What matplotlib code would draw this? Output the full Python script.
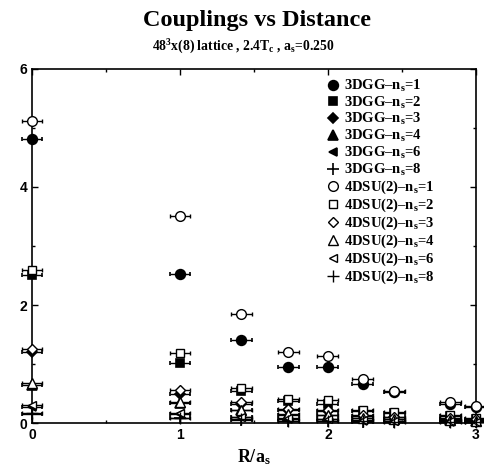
import numpy as np
import matplotlib
matplotlib.use("Agg")
import matplotlib.pyplot as plt
from matplotlib.lines import Line2D

plt.rcParams["mathtext.fontset"] = "custom"
plt.rcParams["mathtext.rm"] = "Liberation Serif:bold"
plt.rcParams["mathtext.it"] = "Liberation Serif:bold"
plt.rcParams["mathtext.bf"] = "Liberation Serif:bold"

# distances R/a_s : 0, 1, sqrt2, sqrt3, 2, sqrt5, sqrt6, sqrt8, 3
R = np.sqrt([0, 1, 2, 3, 4, 5, 6, 8, 9])

# 3DGG couplings for n_s = 1, 2, 3, 4, 6, 8
gg_n1 = [4.81, 2.52, 1.41, 0.95, 0.95, 0.66, 0.53, 0.32, 0.27]
gg_n2 = [2.50, 1.01, 0.54, 0.38, 0.33, 0.21, 0.17, 0.12, 0.07]
gg_n3 = [1.20, 0.50, 0.33, 0.22, 0.20, 0.12, 0.10, 0.07, 0.05]
gg_n4 = [0.65, 0.34, 0.22, 0.14, 0.13, 0.08, 0.06, 0.05, 0.04]
gg_n6 = [0.27, 0.15, 0.10, 0.07, 0.06, 0.04, 0.03, 0.02, 0.02]
gg_n8 = [0.15, 0.08, 0.05, 0.04, 0.03, 0.02, 0.02, 0.01, 0.01]

# 4D SU(2) couplings for n_s = 1, 2, 3, 4, 6, 8
su_n1 = [5.12, 3.50, 1.84, 1.20, 1.13, 0.74, 0.54, 0.36, 0.29]
su_n2 = [2.60, 1.19, 0.60, 0.40, 0.39, 0.22, 0.18, 0.13, 0.08]
su_n3 = [1.25, 0.56, 0.35, 0.24, 0.22, 0.13, 0.11, 0.08, 0.06]
su_n4 = [0.68, 0.36, 0.22, 0.15, 0.14, 0.09, 0.07, 0.05, 0.04]
su_n6 = [0.30, 0.17, 0.11, 0.08, 0.07, 0.05, 0.04, 0.03, 0.02]
su_n8 = [0.17, 0.09, 0.06, 0.04, 0.04, 0.03, 0.02, 0.02, 0.01]

ns_labels = ["1", "2", "3", "4", "6", "8"]
gg_series = [gg_n1, gg_n2, gg_n3, gg_n4, gg_n6, gg_n8]
su_series = [su_n1, su_n2, su_n3, su_n4, su_n6, su_n8]
markers = ["o", "s", "D", "^", "<", "+"]
msizes = [7, 6, 5, 6.5, 6, 8]

fig = plt.figure(figsize=(4.84, 4.69), dpi=100)
ax = fig.add_axes([0.066, 0.098, 0.917, 0.755])


def draw(ys, mk, ms, filled, z):
    cont = ax.errorbar(R, ys, xerr=0.07, fmt=mk, ms=ms, color="black",
                       mfc="black" if (filled or mk == "+") else "white",
                       mew=1.2 if filled else 1.0, elinewidth=1.0,
                       capsize=1.5, zorder=z)
    cont[0].set_clip_on(False)
    for part in cont[1]:
        part.set_clip_on(False)
    for part in cont[2]:
        part.set_clip_on(False)


handles = []
labels = []
for lab, ys, mk, ms in zip(ns_labels, gg_series, markers, msizes):
    draw(ys, mk, ms, True, 3)
    handles.append(Line2D([], [], marker=mk, ms=ms, color="black",
                          mfc="black", ls="none", mew=1.2))
    labels.append("3DGG\u2013n$_{\\mathrm{s}}$=" + lab)
for lab, ys, mk, ms in zip(ns_labels, su_series, markers, msizes):
    draw(ys, mk, ms, False, 4)
    handles.append(Line2D([], [], marker=mk, ms=ms, color="black",
                          mfc="none", ls="none", mew=1.0))
    labels.append("4DSU(2)\u2013n$_{\\mathrm{s}}$=" + lab)

ax.set_xlim(0, 3)
ax.set_ylim(0, 6)
ax.set_xticks([0, 1, 2, 3])
ax.set_xticks([0.5, 1.5, 2.5], minor=True)
ax.set_yticks([0, 2, 4, 6])
ax.set_yticks([1, 3, 5], minor=True)
ax.tick_params(which="both", direction="in", top=True, right=True,
               width=1.0, labelsize=10)
ax.tick_params(which="major", length=4)
ax.tick_params(which="minor", length=2.5)
for lbl in ax.get_xticklabels() + ax.get_yticklabels():
    lbl.set_fontfamily("Liberation Sans")
    lbl.set_fontweight("bold")
for sp in ax.spines.values():
    sp.set_linewidth(1.2)

ax.set_xlabel("R/a$_{\\mathrm{s}}$", fontsize=13, family="Liberation Serif",
              fontweight="bold", labelpad=4)

fig.text(0.531, 0.957, "Couplings vs Distance", ha="center", va="center",
         fontsize=17.5, family="Liberation Serif", fontweight="bold")
fig.text(0.502, 0.9, "48$^{\\mathrm{3}}$x(8) lattice , 2.4T$_{\\mathrm{c}}$ , a$_{\\mathrm{s}}$=0.250",
         ha="center", va="center", fontsize=9.8, family="Liberation Serif",
         fontweight="bold")

ax.legend(handles, labels, loc="upper left", bbox_to_anchor=(0.645, 1.0),
          frameon=False, handlelength=0.8, handletextpad=0.35,
          labelspacing=0.05, borderaxespad=0.2,
          prop={"family": "Liberation Serif", "weight": "bold", "size": 10.5})

fig.savefig("out.png", dpi=100)
